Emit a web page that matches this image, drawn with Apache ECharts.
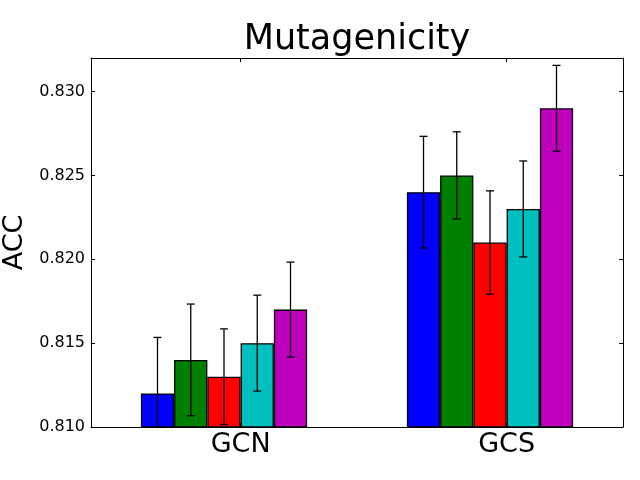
<!DOCTYPE html>
<html>
<head>
<meta charset="utf-8">
<script src="https://cdn.jsdelivr.net/npm/echarts@6/dist/echarts.min.js"></script>
<style>html,body{margin:0;padding:0;background:#fff}#c{width:640px;height:480px}</style>
</head>
<body>
<div id="c"></div>
<script>
var categories = ['GCN', 'GCS'];
var seriesNames = ['s1', 's2', 's3', 's4', 's5'];
var colors = ['#0000ff', '#008000', '#ff0000', '#00bfbf', '#bf00bf'];
var s1 = [0.812, 0.824];
var s2 = [0.814, 0.825];
var s3 = [0.813, 0.821];
var s4 = [0.815, 0.823];
var s5 = [0.817, 0.829];
var e1 = [0.00334, 0.00333];
var e2 = [0.00333, 0.00260];
var e3 = [0.00285, 0.00308];
var e4 = [0.00286, 0.00286];
var e5 = [0.00283, 0.00256];
var yTicks = [0.810, 0.815, 0.820, 0.825, 0.830];

var values = [s1, s2, s3, s4, s5];
var errs = [e1, e2, e3, e4, e5];
var font = 'DejaVu Sans';

var series = [];
values.forEach(function (v, i) {
  series.push({
    name: seriesNames[i], type: 'bar', xAxisIndex: 0, yAxisIndex: 0,
    data: v, barGap: '0%', barCategoryGap: '37.5%',
    itemStyle: { color: colors[i], borderColor: '#000', borderWidth: 1.3 },
    silent: true, z: 2
  });
});
var errData = [];
values.forEach(function (v, i) {
  v.forEach(function (val, c) { errData.push([c, i, val, errs[i][c]]); });
});
series.push({
  type: 'custom', xAxisIndex: 0, yAxisIndex: 0, clip: true, z: 5, silent: true,
  encode: { x: 0, y: 2 },
  data: errData,
  renderItem: function (params, api) {
    var c = api.value(0), i = api.value(1), val = api.value(2), err = api.value(3);
    var band = api.size([1, 0])[0];
    var bw = band * 0.125;
    var off = (i - 2) * bw;
    var top = api.coord([c, val + err]);
    var bot = api.coord([c, val - err]);
    var x = top[0] + off;
    var cap = 4;
    var st = { stroke: '#000', lineWidth: 1.3 };
    return { type: 'group', children: [
      { type: 'line', shape: { x1: x, y1: top[1], x2: x, y2: bot[1] }, style: st },
      { type: 'line', shape: { x1: x - cap, y1: top[1], x2: x + cap, y2: top[1] }, style: st },
      { type: 'line', shape: { x1: x - cap, y1: bot[1], x2: x + cap, y2: bot[1] }, style: st }
    ]};
  }
});

var tickVals = [0, 1];
var lineSt = { color: '#000', width: 1 };
var option = {
  animation: false,
  backgroundColor: '#fff',
  title: {
    text: 'Mutagenicity', left: 357, textAlign: 'center', top: 22, padding: 0,
    textStyle: { fontFamily: font, fontSize: 35, fontWeight: 'normal', color: '#000' }
  },
  grid: { left: 91, right: 17, top: 58, bottom: 53, containLabel: false, outerBoundsMode: 'none' },
  xAxis: [
    { type: 'category', data: categories, show: false, boundaryGap: true },
    { type: 'value', min: -0.5625, max: 1.4375, position: 'bottom',
      axisLine: { show: true, onZero: false, lineStyle: lineSt },
      splitLine: { show: false },
      axisTick: { show: true, inside: true, length: 4, customValues: tickVals, lineStyle: { color: '#000' } },
      axisLabel: { show: true, customValues: tickVals, margin: 4,
        formatter: function (v) { return categories[Math.round(v)]; },
        fontFamily: font, fontSize: 27, color: '#000' } },
    { type: 'value', min: -0.5625, max: 1.4375, position: 'top',
      axisLine: { show: true, onZero: false, lineStyle: lineSt },
      splitLine: { show: false },
      axisTick: { show: true, inside: true, length: 4, customValues: tickVals, lineStyle: { color: '#000' } },
      axisLabel: { show: false } }
  ],
  yAxis: [
    { type: 'value', min: 0.810, max: 0.832, interval: 0.005, position: 'left',
      name: 'ACC', nameLocation: 'middle', nameGap: 58, nameRotate: 90,
      nameTextStyle: { fontFamily: font, fontSize: 27, color: '#000' },
      axisLine: { show: true, onZero: false, lineStyle: lineSt },
      splitLine: { show: false },
      axisTick: { show: true, inside: true, length: 4, customValues: yTicks, lineStyle: { color: '#000' } },
      axisLabel: { customValues: yTicks, margin: 6, fontFamily: font, fontSize: 16, color: '#000',
        formatter: function (v) { return v.toFixed(3); } } },
    { type: 'value', min: 0.810, max: 0.832, interval: 0.005, position: 'right',
      axisLine: { show: true, onZero: false, lineStyle: lineSt },
      splitLine: { show: false },
      axisTick: { show: true, inside: true, length: 4, customValues: yTicks, lineStyle: { color: '#000' } },
      axisLabel: { show: false } }
  ],
  series: series
};
var chart = echarts.init(document.getElementById('c'), null, { renderer: 'canvas' });
chart.setOption(option);
</script>
</body>
</html>
